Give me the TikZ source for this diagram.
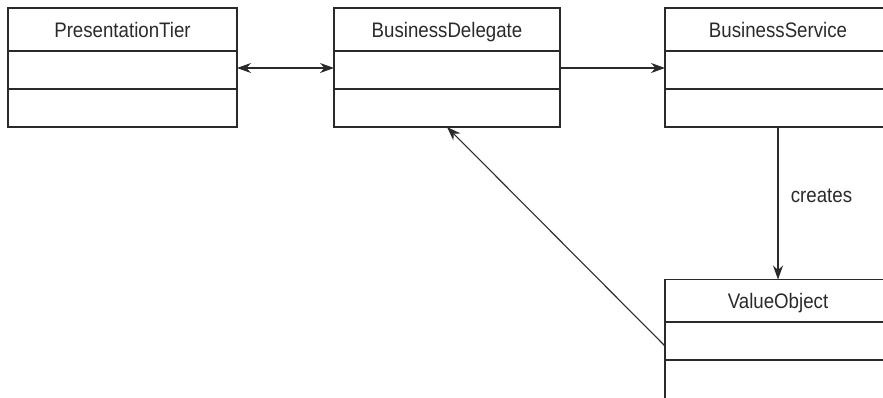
\documentclass[tikz,border=0pt]{standalone}
\usepackage{fontspec}
\setmainfont{Liberation Sans}[FakeStretch=0.89]
\usetikzlibrary{arrows.meta}
\definecolor{ink}{HTML}{2A2A2A}
\tikzset{
  x=1pt, y=-1pt,
  comp/.style={draw=ink, line width=1.2pt, inner sep=0pt, outer sep=0pt, rectangle},
  headc/.style={comp, minimum height=43pt, text height=15pt, text depth=0pt,
    font=\fontsize{21}{24}\selectfont, text=ink},
  bodyc/.style={comp, minimum height=38pt},
  conn/.style={draw=ink, line width=1.1pt},
  hd/.tip={Stealth[length=14pt, width=10pt, inset=4.5pt]},
  tip/.style={-{hd}},
  lbl/.style={font=\fontsize{21}{24}\selectfont, text=ink},
}
\begin{document}
\begin{tikzpicture}
\useasboundingbox (0,0) rectangle (883,397);
\clip (0,0) rectangle (883,397);
% PresentationTier
\node[headc, minimum width=229pt] (pth) at (122.5,29.5) {PresentationTier};
\node[bodyc, minimum width=229pt] (pta) at (122.5,70) {};
\node[bodyc, minimum width=229pt] (ptm) at (122.5,108) {};
% BusinessDelegate
\node[headc, minimum width=226pt] (bdh) at (447,29.5) {BusinessDelegate};
\node[bodyc, minimum width=226pt] (bda) at (447,70) {};
\node[bodyc, minimum width=226pt] (bdm) at (447,108) {};
% BusinessService
\node[headc, minimum width=226pt] (bsh) at (778,29.5) {BusinessService};
\node[bodyc, minimum width=226pt] (bsa) at (778,70) {};
\node[bodyc, minimum width=226pt] (bsm) at (778,108) {};
% ValueObject
\node[headc, minimum width=226pt] (voh) at (778,301) {ValueObject};
\node[bodyc, minimum width=226pt] (voa) at (778,341) {};
\node[bodyc, minimum width=226pt, minimum height=40pt] (vom) at (778,380) {};
% connectors
\draw[conn, {hd}-{hd}] ([yshift=2pt]pta.east) -- ([yshift=2pt]bda.west);
\draw[conn, tip] ([yshift=2pt]bda.east) -- ([yshift=2pt]bsa.west);
\draw[conn, tip] (bsm.south) -- node[lbl, right, xshift=9pt, yshift=7pt] {creates} (voh.north);
\draw[conn, tip] ([yshift=-5pt]voa.west) -- (bdm.south);
\end{tikzpicture}
\end{document}
